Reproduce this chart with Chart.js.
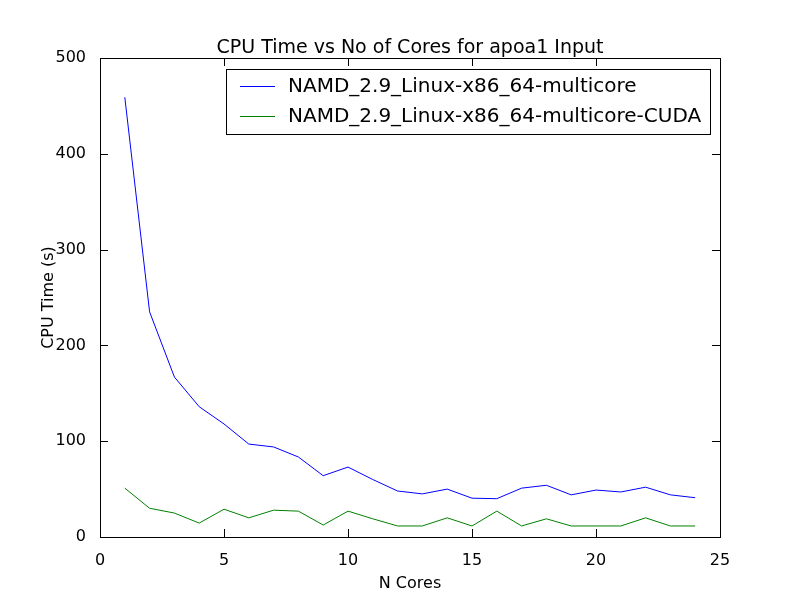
<!DOCTYPE html>
<html><head><meta charset="utf-8">
<script src="https://cdn.jsdelivr.net/npm/chart.js@4"></script>
<style>html,body{margin:0;background:#fff}#w{width:800px;height:597px}</style>
</head><body><div id="w"><canvas id="c"></canvas></div>
<script>
const cores=[1,2,3,4,5,6,7,8,9,10,11,12,13,14,15,16,17,18,19,20,21,22,23,24];
const multicore=[459,235,167,136,118,97,94,83.5,64,73,60,48,45,50,40.5,40,51,54,44,49,47,52,44,41];
const cuda=[51,30,25,14.5,29,20,28,27,12.5,27,19,11.5,11.5,20,11.5,27,11.5,19,11.5,11.5,11.5,20,11.5,11.5];
const seriesNames=['NAMD_2.9_Linux-x86_64-multicore','NAMD_2.9_Linux-x86_64-multicore-CUDA'];
const colors=['#0000ff','#008000'];
const xTicks=[0,5,10,15,20,25], yTicks=[0,100,200,300,400,500];
const F='"DejaVu Sans", sans-serif';
const frame={id:'frame',afterDraw(ch){
 const {ctx,chartArea:a,scales:{x,y}}=ch;ctx.save();ctx.strokeStyle='#000';ctx.lineWidth=1;
 ctx.strokeRect(a.left+.5,a.top+.5,a.right-a.left,a.bottom-a.top);
 ctx.beginPath();
 xTicks.forEach(v=>{const p=Math.round(x.getPixelForValue(v))+.5;ctx.moveTo(p,a.bottom);ctx.lineTo(p,a.bottom-8);ctx.moveTo(p,a.top);ctx.lineTo(p,a.top+8);});
 yTicks.forEach(v=>{const p=Math.round(y.getPixelForValue(v))+.5;ctx.moveTo(a.left,p);ctx.lineTo(a.left+8,p);ctx.moveTo(a.right,p);ctx.lineTo(a.right-8,p);});
 ctx.stroke();
 ctx.fillStyle='#000';ctx.textAlign='center';ctx.textBaseline='alphabetic';
 ctx.font='19px '+F;ctx.fillText('CPU Time vs No of Cores for apoa1 Input',(a.left+a.right)/2,53);
 ctx.save();ctx.translate(53,(a.top+a.bottom)/2);ctx.rotate(-Math.PI/2);ctx.font='16px '+F;ctx.fillText('CPU Time (s)',0,0);ctx.restore();
 // legend
 const L=226.5,T=69.5,W=484,H=65;ctx.fillStyle='#fff';ctx.fillRect(L,T,W,H);ctx.strokeRect(L,T,W,H);
 ctx.font='20px '+F;ctx.textBaseline='middle';ctx.textAlign='left';
 seriesNames.forEach((n,i)=>{const yy=T+17+i*30;ctx.strokeStyle=colors[i];ctx.beginPath();ctx.moveTo(240,yy);ctx.lineTo(275,yy);ctx.stroke();ctx.fillStyle='#000';ctx.fillText(n,288,yy);});
 ctx.restore();}};
new Chart(document.getElementById('c'),{type:'line',
 data:{labels:cores,datasets:[multicore,cuda].map((d,i)=>({label:seriesNames[i],data:d.map((v,j)=>({x:cores[j],y:v})),borderColor:colors[i],borderWidth:1,pointRadius:0,tension:0,fill:false}))},
 options:{responsive:true,maintainAspectRatio:false,animation:false,
  layout:{padding:{left:0,right:80,top:58,bottom:0}},
  plugins:{legend:{display:false},tooltip:{enabled:false},title:{display:false}},
  scales:{
   x:{type:'linear',min:0,max:25,afterBuildTicks(s){s.ticks=xTicks.map(v=>({value:v}));},afterFit(s){s.height=60;},
    grid:{display:false},border:{display:false},ticks:{color:'#000',font:{family:F,size:16},padding:6},
    title:{display:true,text:'N Cores',color:'#000',font:{family:F,size:16},padding:{top:2}}},
   y:{min:0,max:500,afterBuildTicks(s){s.ticks=yTicks.map(v=>({value:v}));},afterFit(s){s.width=100;},
    grid:{display:false},border:{display:false},ticks:{color:'#000',font:{family:F,size:16},padding:6},
    title:{display:false}}}},
 plugins:[frame]});
</script></body></html>
